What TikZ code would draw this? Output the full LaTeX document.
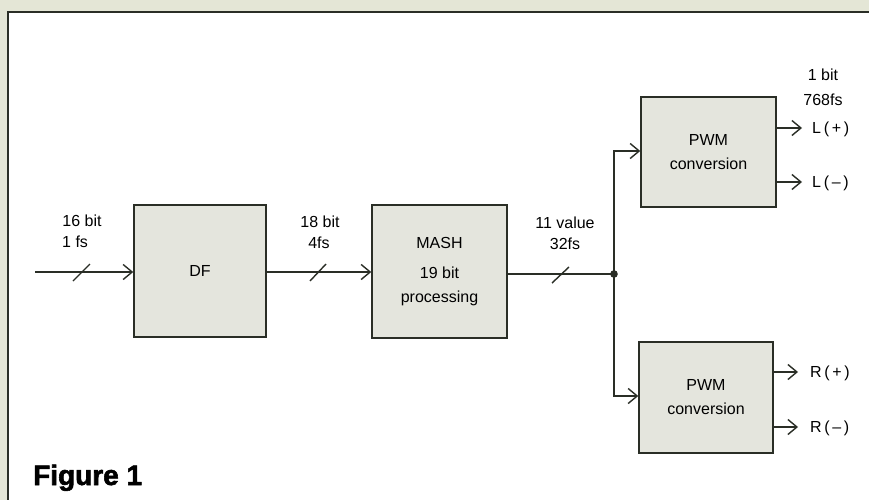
\documentclass[tikz,border=0pt]{standalone}
\usepackage{fontspec}
\setmainfont{Liberation Sans}
\newfontfamily\figfont{Liberation Sans}[BoldFeatures={FakeBold=2}]
\usetikzlibrary{arrows.meta}
\definecolor{bg}{HTML}{E4E6D6}
\definecolor{boxfill}{HTML}{E4E5DD}
\definecolor{ink}{HTML}{2A2E26}
\begin{document}
\begin{tikzpicture}[x=1pt,y=-1pt,
  blk/.style={draw=ink,fill=boxfill,line width=1.5pt,inner sep=0pt,align=center,font=\fontsize{16}{24}\selectfont,text=black},
  lbl/.style={inner sep=0pt,align=center,font=\fontsize{16}{18}\selectfont,text=black},
  wire/.style={draw=ink,line width=1.4pt},
  arr/.style={wire,-{Straight Barb[length=9pt,width=15pt,line width=1.4pt]}},
  sl/.style={draw=ink,line width=1.4pt}]
\useasboundingbox (0,0) rectangle (869,500);
\fill[bg] (0,0) rectangle (869,500);
\fill[white] (8,12) rectangle (869,500);
\draw[ink,line width=1.8pt] (8,500) -- (8,12) -- (869,12);
% blocks
\node[blk,minimum width=132pt,minimum height=132pt] (df) at (200,271) {DF};
\node[blk,minimum width=135pt,minimum height=133pt] (mash) at (439.5,271.5) {MASH\\[6pt]19 bit\\processing};
\node[blk,minimum width=135pt,minimum height=110pt] (pwm1) at (708.5,152) {PWM\\conversion};
\node[blk,minimum width=134pt,minimum height=111pt] (pwm2) at (706,397.5) {PWM\\conversion};
% input
\coordinate (in) at (35,272);
\draw[arr] (in) -- (df.west |- in);
\draw[sl] (73,281) -- (90,264);
\node[lbl] at (82,221) {16 bit};
\node[lbl,anchor=west] at (62,242) {1 fs};
% df -> mash
\draw[arr] (df.east |- in) -- (mash.west |- in);
\draw[sl] (310,281) -- (326,264);
\node[lbl] at (320,222) {18 bit};
\node[lbl] at (319,243) {4fs};
% mash -> junction
\coordinate (j) at (614,274);
\draw[wire] (mash.east |- j) -- (j);
\draw[sl] (552,283) -- (569,267);
\node[lbl] at (565,223) {11 value};
\node[lbl] at (565,244) {32fs};
\fill[ink] (j) circle (3.8pt);
% branches
\coordinate (jt) at (614,151);
\coordinate (jb) at (614,396);
\draw[arr] (j) -- (jt) -- (pwm1.west |- jt);
\draw[arr] (j) -- (jb) -- (pwm2.west |- jb);
% outputs
\coordinate (lp) at (802,128);
\coordinate (lm) at (802,182);
\coordinate (rp) at (798,372);
\coordinate (rm) at (798,427);
\draw[arr] (pwm1.east |- lp) -- (lp);
\draw[arr] (pwm1.east |- lm) -- (lm);
\draw[arr] (pwm2.east |- rp) -- (rp);
\draw[arr] (pwm2.east |- rm) -- (rm);
\node[lbl,anchor=west] at (812,129) {L\,(\,+\,)};
\node[lbl,anchor=west] at (812,183) {L\,(\,–\,)};
\node[lbl,anchor=west] at (810,373) {R\,(\,+\,)};
\node[lbl,anchor=west] at (810,428) {R\,(\,–\,)};
\node[lbl] at (823,75) {1 bit};
\node[lbl] at (823,100) {768fs};
% caption
\node[anchor=base west,inner sep=0pt,font=\figfont\fontsize{28}{30}\bfseries\selectfont,text=black] at (33,485) {Figure 1};
\end{tikzpicture}
\end{document}
